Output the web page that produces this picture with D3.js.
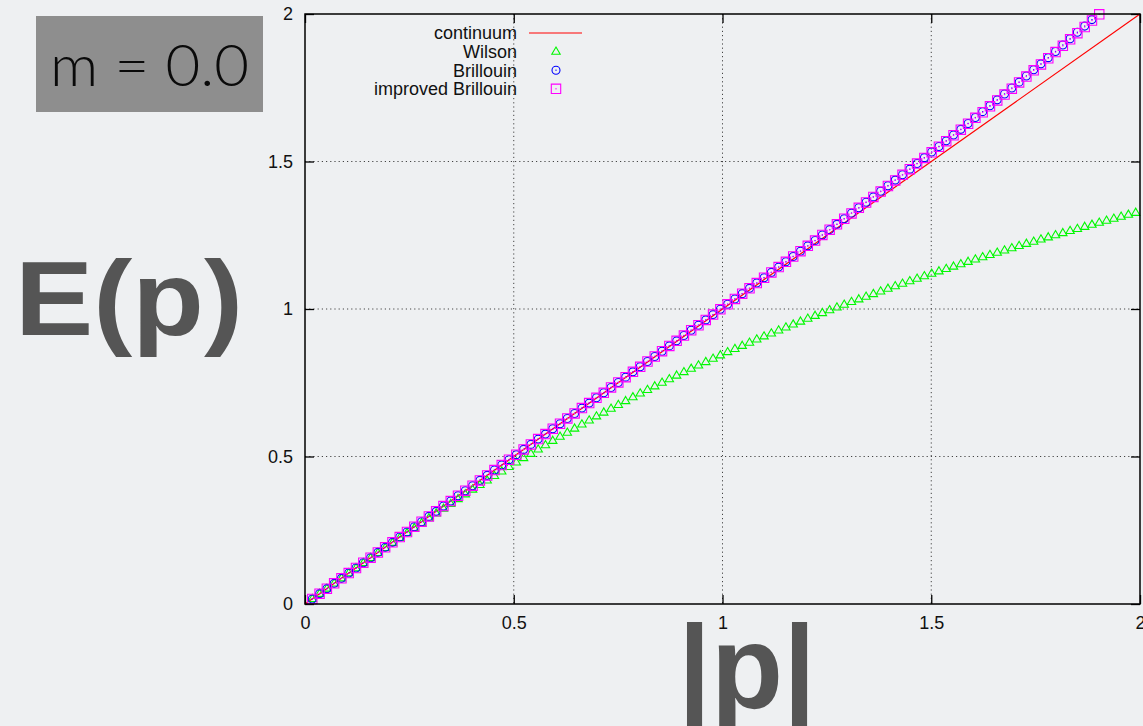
<!DOCTYPE html>
<html>
<head>
<meta charset="utf-8">
<script src="https://cdn.jsdelivr.net/npm/d3@7"></script>
<style>
  html, body { margin: 0; padding: 0; background: #eef0f2; overflow: hidden; }
  svg { display: block; }
</style>
</head>
<body>
<div id="chart"></div>
<script>
// momentum grid: k * (pi/180), k = 1..114
const momenta = d3.range(1, 115).map(k => k * 0.0174533);

const xTicks = [0, 0.5, 1, 1.5, 2];
const yTicks = [0, 0.5, 1, 1.5, 2];

// continuum E = |p|
const continuum = [[0, 0], [2, 2]];

const wilson = [
  0.0174, 0.0348, 0.0523, 0.0697, 0.0871, 0.1045, 0.1216, 0.1388, 0.1560, 0.1732,
  0.1904, 0.2074, 0.2241, 0.2408, 0.2576, 0.2743, 0.2910, 0.3073, 0.3235, 0.3396,
  0.3558, 0.3720, 0.3881, 0.4035, 0.4188, 0.4342, 0.4496, 0.4650, 0.4802, 0.4948,
  0.5094, 0.5240, 0.5387, 0.5533, 0.5674, 0.5811, 0.5949, 0.6087, 0.6225, 0.6362,
  0.6492, 0.6622, 0.6751, 0.6880, 0.7010, 0.7138, 0.7259, 0.7380, 0.7502, 0.7623,
  0.7744, 0.7862, 0.7976, 0.8090, 0.8204, 0.8318, 0.8431, 0.8540, 0.8647, 0.8754,
  0.8861, 0.8968, 0.9074, 0.9175, 0.9275, 0.9376, 0.9476, 0.9576, 0.9675, 0.9770,
  0.9865, 0.9960, 1.0054, 1.0149, 1.0241, 1.0330, 1.0420, 1.0509, 1.0599, 1.0688,
  1.0774, 1.0859, 1.0943, 1.1028, 1.1113, 1.1198, 1.1278, 1.1359, 1.1439, 1.1520,
  1.1601, 1.1680, 1.1757, 1.1834, 1.1911, 1.1987, 1.2064, 1.2139, 1.2212, 1.2285,
  1.2359, 1.2432, 1.2505, 1.2576, 1.2646, 1.2717, 1.2787, 1.2857, 1.2927, 1.2995,
  1.3062, 1.3129, 1.3196, 1.3263
];

const brillouin = [
  0.017, 0.035, 0.052, 0.070, 0.087, 0.105, 0.122, 0.140, 0.157, 0.175,
  0.192, 0.209, 0.227, 0.244, 0.262, 0.279, 0.297, 0.314, 0.332, 0.349,
  0.367, 0.384, 0.401, 0.419, 0.436, 0.454, 0.471, 0.489, 0.506, 0.524,
  0.541, 0.559, 0.576, 0.594, 0.611, 0.629, 0.646, 0.664, 0.681, 0.699,
  0.716, 0.734, 0.751, 0.769, 0.787, 0.804, 0.822, 0.839, 0.857, 0.875,
  0.892, 0.910, 0.928, 0.945, 0.963, 0.981, 0.999, 1.016, 1.034, 1.052,
  1.070, 1.088, 1.106, 1.124, 1.142, 1.160, 1.178, 1.196, 1.214, 1.232,
  1.251, 1.269, 1.287, 1.306, 1.325, 1.343, 1.362, 1.380, 1.399, 1.418,
  1.437, 1.455, 1.474, 1.493, 1.513, 1.532, 1.551, 1.570, 1.590, 1.609,
  1.629, 1.649, 1.669, 1.689, 1.709, 1.729, 1.749, 1.769, 1.790, 1.811,
  1.831, 1.852, 1.873, 1.895, 1.916, 1.938, 1.959, 1.981, 2.003
];

const improved = [
  0.017, 0.035, 0.052, 0.070, 0.087, 0.105, 0.122, 0.140, 0.157, 0.175,
  0.192, 0.209, 0.227, 0.244, 0.262, 0.279, 0.297, 0.314, 0.332, 0.349,
  0.367, 0.384, 0.401, 0.419, 0.436, 0.454, 0.471, 0.489, 0.506, 0.524,
  0.541, 0.559, 0.576, 0.594, 0.611, 0.629, 0.646, 0.664, 0.681, 0.699,
  0.716, 0.734, 0.751, 0.769, 0.787, 0.804, 0.822, 0.839, 0.857, 0.875,
  0.892, 0.910, 0.928, 0.945, 0.963, 0.981, 0.999, 1.016, 1.034, 1.052,
  1.070, 1.088, 1.106, 1.124, 1.142, 1.160, 1.178, 1.196, 1.214, 1.232,
  1.251, 1.269, 1.287, 1.306, 1.324, 1.343, 1.361, 1.380, 1.398, 1.417,
  1.436, 1.455, 1.474, 1.493, 1.512, 1.531, 1.550, 1.569, 1.589, 1.608,
  1.628, 1.648, 1.667, 1.687, 1.707, 1.727, 1.747, 1.768, 1.788, 1.809,
  1.829, 1.850, 1.871, 1.892, 1.914, 1.935, 1.956, 1.978, 1.999
];

const seriesNames = ['continuum', 'Wilson', 'Brillouin', 'improved Brillouin'];
const seriesColors = ['#ff0000', '#00f800', '#0000ff', '#ff00ff'];
const seriesShapes = ['line', 'triangle', 'circle', 'square'];

const width = 1143, height = 726;
const plot = { left: 305, right: 1140, top: 14, bottom: 604 };

const svg = d3.select('#chart').append('svg')
  .attr('width', width)
  .attr('height', height);

const x = d3.scaleLinear().domain([0, 2]).range([plot.left, plot.right]);
const y = d3.scaleLinear().domain([0, 2]).range([plot.bottom, plot.top]);

const fmt = d => d3.format('~g')(d);

// grid
const grid = svg.append('g').attr('stroke', '#444').attr('stroke-width', 1)
  .attr('stroke-dasharray', '1.2,3');
grid.selectAll('.gx').data(xTicks.slice(1, -1)).enter().append('line')
  .attr('x1', d => x(d)).attr('x2', d => x(d))
  .attr('y1', plot.top).attr('y2', plot.bottom);
grid.selectAll('.gy').data(yTicks.slice(1, -1)).enter().append('line')
  .attr('y1', d => y(d)).attr('y2', d => y(d))
  .attr('x1', plot.left).attr('x2', plot.right);

// axes, ticks pointing inward on all four sides
function styleAxis(g) {
  g.select('.domain').remove();
  g.selectAll('.tick line').attr('stroke', '#000').attr('stroke-width', 1.3);
  g.selectAll('.tick text')
    .attr('fill', '#111')
    .style('font-family', '"Liberation Sans", Arial, sans-serif')
    .style('font-size', '18px');
}

svg.append('g').attr('transform', `translate(0,${plot.bottom})`)
  .call(d3.axisBottom(x).tickValues(xTicks).tickSize(-9).tickPadding(12).tickFormat(fmt))
  .call(styleAxis);
svg.append('g').attr('transform', `translate(${plot.left},0)`)
  .call(d3.axisLeft(y).tickValues(yTicks).tickSize(-9).tickPadding(12).tickFormat(fmt))
  .call(styleAxis);
svg.append('g').attr('transform', `translate(0,${plot.top})`)
  .call(d3.axisTop(x).tickValues(xTicks).tickSize(-9).tickFormat(''))
  .call(styleAxis);
svg.append('g').attr('transform', `translate(${plot.right},0)`)
  .call(d3.axisRight(y).tickValues(yTicks).tickSize(-9).tickFormat(''))
  .call(styleAxis);

svg.selectAll('.tick text').attr('font-family', null);

const data = svg.append('g');

// continuum line
data.append('path')
  .datum(continuum)
  .attr('fill', 'none')
  .attr('stroke', seriesColors[0])
  .attr('stroke-width', 1.2)
  .attr('d', d3.line().x(d => x(d[0])).y(d => y(d[1])));

function symbolPath(shape) {
  if (shape === 'triangle') return 'M0,-4.6L4.2,2.6L-4.2,2.6Z';
  if (shape === 'circle') return 'M4,0A4,4 0 1,1 -4,0A4,4 0 1,1 4,0Z';
  return 'M-4.7,-4.7H4.7V4.7H-4.7Z';
}

function drawPoints(values, i) {
  // points outside the y range are not drawn (as gnuplot does)
  const pts = values.map((v, k) => [momenta[k], v])
    .filter(d => d[1] <= 2 && d[0] <= 2);
  const g = data.append('g');
  const m = g.selectAll('g').data(pts).enter().append('g')
    .attr('transform', d => `translate(${x(d[0])},${y(d[1])})`);
  m.append('path')
    .attr('d', symbolPath(seriesShapes[i]))
    .attr('fill', 'none')
    .attr('stroke', seriesColors[i])
    .attr('stroke-width', 1.1);
  if (seriesShapes[i] !== 'triangle') {
    m.append('rect').attr('x', -0.6).attr('y', -0.6).attr('width', 1.2).attr('height', 1.2)
      .attr('fill', seriesColors[i]);
  }
}

drawPoints(wilson, 1);
drawPoints(brillouin, 2);
drawPoints(improved, 3);

// frame
svg.append('rect')
  .attr('x', plot.left).attr('y', plot.top)
  .attr('width', plot.right - plot.left).attr('height', plot.bottom - plot.top)
  .attr('fill', 'none').attr('stroke', '#000').attr('stroke-width', 1.5);

// legend
const legend = svg.append('g').attr('transform', 'translate(517,33)');
const rows = legend.selectAll('g').data(seriesNames).enter().append('g')
  .attr('transform', (d, i) => `translate(0,${i * 18.6})`);
rows.append('text')
  .attr('text-anchor', 'end')
  .attr('dy', '0.36em')
  .style('font-family', '"Liberation Sans", Arial, sans-serif')
  .style('font-size', '18px')
  .attr('fill', '#111')
  .text(d => d);
rows.each(function (d, i) {
  const r = d3.select(this);
  if (seriesShapes[i] === 'line') {
    r.append('line').attr('x1', 12).attr('x2', 65).attr('y1', 0).attr('y2', 0)
      .attr('stroke', seriesColors[i]).attr('stroke-width', 1.2);
  } else {
    r.append('path').attr('transform', 'translate(39,0)')
      .attr('d', symbolPath(seriesShapes[i]))
      .attr('fill', 'none').attr('stroke', seriesColors[i]).attr('stroke-width', 1.1);
    if (seriesShapes[i] !== 'triangle') {
      r.append('rect').attr('x', 38.4).attr('y', -0.6).attr('width', 1.2).attr('height', 1.2)
        .attr('fill', seriesColors[i]);
    }
  }
});

// slide annotations
svg.append('rect')
  .attr('x', 36).attr('y', 16).attr('width', 227).attr('height', 96)
  .attr('fill', '#8e8e8e');
svg.append('text')
  .attr('x', 50).attr('y', 86)
  .attr('textLength', 199).attr('lengthAdjust', 'spacingAndGlyphs')
  .style('font-family', 'Lato, "Open Sans", sans-serif')
  .style('font-weight', 300)
  .style('font-size', '58px')
  .attr('fill', '#0a0a0a')
  .text('m = 0.0');

svg.append('text')
  .attr('x', 15).attr('y', 335)
  .attr('textLength', 228).attr('lengthAdjust', 'spacingAndGlyphs')
  .style('font-family', '"Liberation Sans", Arial, sans-serif')
  .style('font-weight', 700)
  .style('font-size', '106px')
  .attr('fill', '#555555')
  .text('E(p)');

svg.append('text')
  .attr('x', 747).attr('y', 708)
  .attr('text-anchor', 'middle')
  .style('font-family', '"Liberation Sans", Arial, sans-serif')
  .style('font-weight', 700)
  .style('font-size', '118px')
  .attr('fill', '#555555')
  .text('|p|');
</script>
</body>
</html>
